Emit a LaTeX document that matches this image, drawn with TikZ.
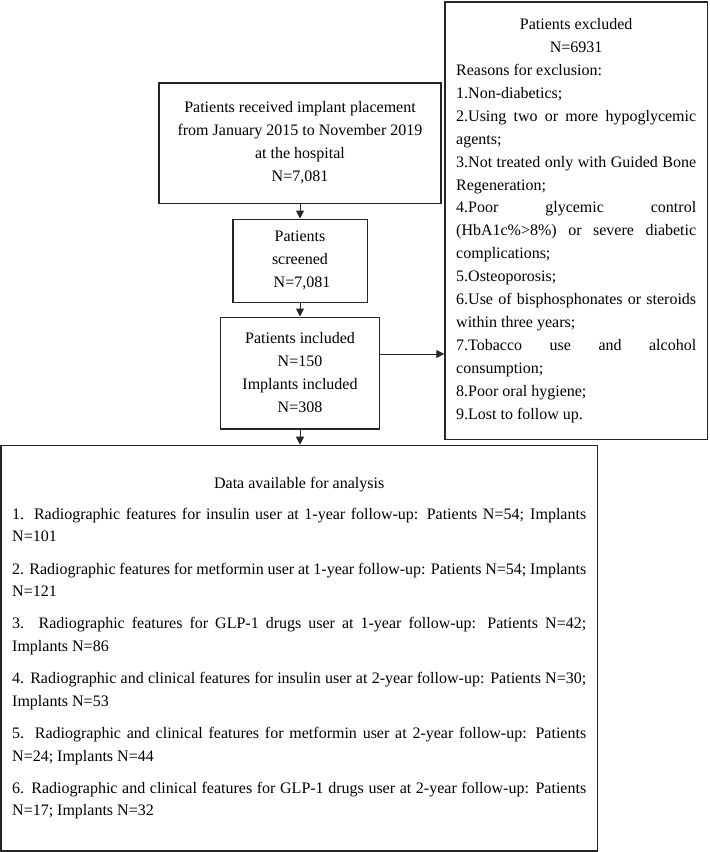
\documentclass[tikz,border=0pt]{standalone}
\usepackage{fontspec}
\setmainfont{Liberation Serif}
\usetikzlibrary{arrows.meta,calc}
\newcommand{\Ls}[2]{\makebox[#1][s]{#2}}
\newcommand{\Ll}[2]{\makebox[#1][l]{#2}}
\newcommand{\Lc}[2]{\makebox[#1][c]{#2}}
\begin{document}
\begin{tikzpicture}[x=1pt,y=-1pt,
  box/.style={draw=black!85,line width=1.6pt,inner sep=0pt,align=center,
    font=\fontsize{16}{23}\selectfont},
  bigbox/.style={box,line width=1.3pt,font=\fontsize{16}{22.6}\selectfont},
  arr/.style={draw=black!85,line width=1pt,-{Triangle[width=8pt,length=8pt]}}]
\useasboundingbox (0,0) rectangle (710,852);

\node[box,minimum width=281.7pt,minimum height=120.6pt] (top) at (300,143)
  {Patients received implant placement\\from January 2015 to November 2019\\at the hospital\\N=7,081};

\node[box,minimum width=134.6pt,minimum height=83pt] (screened) at (300,260.8)
  {Patients\\screened\\\ N=7,081};

\node[box,minimum width=159pt,minimum height=111.4pt] (included) at (300,373)
  {Patients included\\N=150\\Implants included\\N=308};

\node[box,minimum width=262.3pt,minimum height=437.6pt,align=left,
  font=\fontsize{16}{22.9}\selectfont] (excluded) at (576.2,220.5)
  {\Lc{240pt}{Patients excluded}\\
   \Lc{240pt}{N=6931}\\
   \Ll{240pt}{Reasons for exclusion:}\\
   \Ll{240pt}{1.Non-diabetics;}\\
   \Ls{240pt}{2.Using two or more hypoglycemic}\\
   \Ll{240pt}{agents;}\\
   \Ls{240pt}{3.Not treated only with Guided Bone}\\
   \Ll{240pt}{Regeneration;}\\
   \Ls{240pt}{4.Poor glycemic control}\\
   \Ls{240pt}{(HbA1c\%>8\%) or severe diabetic}\\
   \Ll{240pt}{complications;}\\
   \Ll{240pt}{5.Osteoporosis;}\\
   \Ls{240pt}{6.Use of bisphosphonates or steroids}\\
   \Ll{240pt}{within three years;}\\
   \Ls{240pt}{7.Tobacco use and alcohol}\\
   \Ll{240pt}{consumption;}\\
   \Ll{240pt}{8.Poor oral hygiene;}\\
   \Ll{240pt}{9.Lost to follow up.}};

\node[bigbox,minimum width=596.3pt,minimum height=405.7pt,align=left] (data) at (299.2,648.2)
  {\Lc{574pt}{Data available for analysis}\\[8.4pt]
   \Ls{574pt}{1. Radiographic features for insulin user at 1-year follow-up: Patients N=54; Implants}\\
   \Ll{574pt}{N=101}\\[9.6pt]
   \Ls{574pt}{2. Radiographic features for metformin user at 1-year follow-up: Patients N=54; Implants}\\
   \Ll{574pt}{N=121}\\[9.6pt]
   \Ls{574pt}{3. Radiographic features for GLP-1 drugs user at 1-year follow-up: Patients N=42;}\\
   \Ll{574pt}{Implants N=86}\\[9.6pt]
   \Ls{574pt}{4. Radiographic and clinical features for insulin user at 2-year follow-up: Patients N=30;}\\
   \Ll{574pt}{Implants N=53}\\[9.6pt]
   \Ls{574pt}{5. Radiographic and clinical features for metformin user at 2-year follow-up: Patients}\\
   \Ll{574pt}{N=24; Implants N=44}\\[9.6pt]
   \Ls{574pt}{6. Radiographic and clinical features for GLP-1 drugs user at 2-year follow-up: Patients}\\
   \Ll{574pt}{N=17; Implants N=32}};

\coordinate (hy) at (0,354);
\draw[arr] (top.south) -- (screened.north);
\draw[arr] (screened.south) -- (included.north);
\draw[arr] (included.south) -- (included.south |- data.north);
\draw[arr] (included.east |- hy) -- (excluded.west |- hy);
\end{tikzpicture}
\end{document}
